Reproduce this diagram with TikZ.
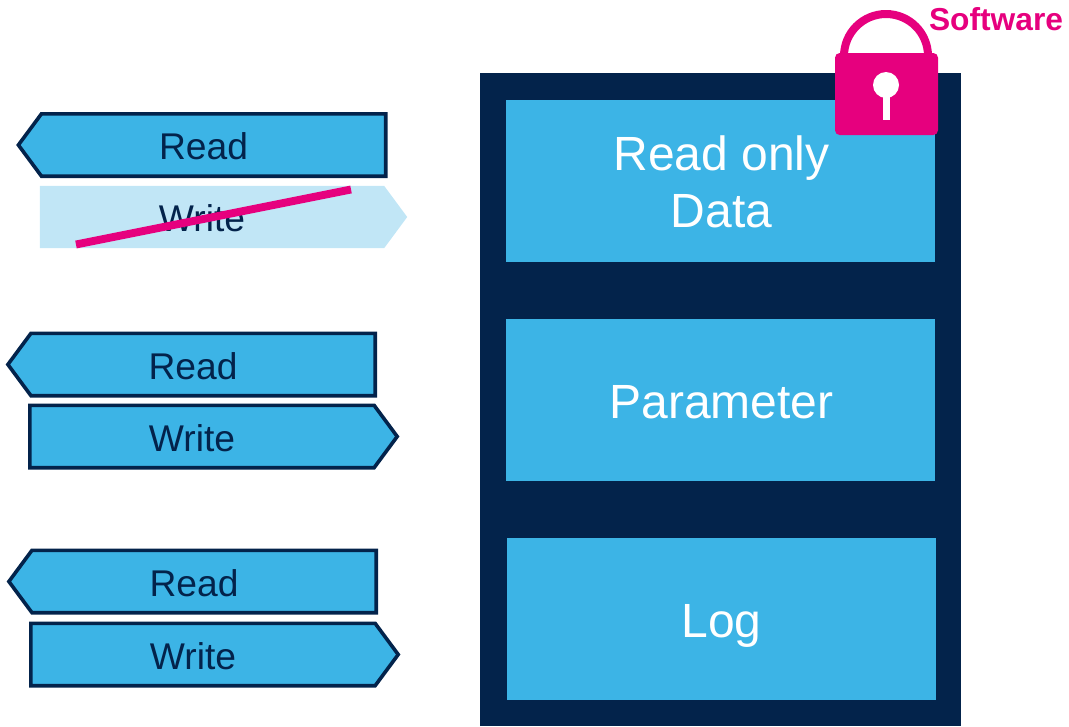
\documentclass[tikz,border=0pt]{standalone}
\usepackage{fontspec}
\setmainfont{Liberation Sans}
\usepackage{tikz}
\usetikzlibrary{positioning, shapes.symbols}
\definecolor{stdark}{HTML}{03234B}
\definecolor{stblue}{HTML}{3CB4E6}
\definecolor{stpale}{HTML}{C1E6F6}
\definecolor{stpink}{HTML}{E6007E}
\newcommand{\portname}[1]{\makebox[0pt]{\hspace{-15pt}#1}}
\tikzset{
	every node/.append style={
		outer sep=0pt,
	},
	memory/.append style={
		fill=stblue,
		text=white,
		align = center,
		minimum width=321.75pt,
		minimum height=121.5pt,
		inner sep=0pt,
		font={\fontsize{36pt}{43pt}\selectfont},
	},
	oneline/.append style={
		text height=27pt,
		text depth=0pt,
	},
	port/.append style={
		shape=signal,
		signal from=nowhere,
		signal pointer angle=107,
		fill=stblue,
		draw=stdark,
		line width=2.7pt,
		text=stdark,
		text height=22pt,
		text depth=0pt,
		minimum width=275.5pt,
		minimum height=46.8pt,
		inner sep=0pt,
		font={\fontsize{27.9pt}{33pt}\selectfont},
	},
	readport/.append style={
		port,
		signal to=west,
	},
	writeport/.append style={
		port,
		signal to=east,
	},
	strike/.append style={
		draw=stpink,
		line width=5.9pt,
	},
}

\begin{document}
\begin{tikzpicture}[x=0.75pt,y=-0.75pt]
\useasboundingbox (0,0) rectangle (1069,726);
\fill[stdark] (480,73) rectangle (961,726);

\node(data)[memory,anchor=north west] at (506,100) {\hspace*{1.5pt}\rule{0pt}{27.8pt}Read only\\\hspace*{1.5pt}Data};
\node(param)[memory,oneline,below = 42.75pt of data] {\hspace*{1.5pt}Parameter};
\node(log)[memory,oneline,anchor=north west] at (507,538) {Log};

\node(reada)[readport] at (213.6,145) {\portname{Read}};
\node(writea)[writeport,fill=stpale,draw=none] at (212,217) {\portname{Write}};
\node(readb)[readport] at (203.1,364.5) {\portname{Read}};
\node(writeb)[writeport] at (202,436.5) {\portname{Write}};
\node(readc)[readport] at (204.1,581.5) {\portname{Read}};
\node(writec)[writeport] at (203,654.5) {\portname{Write}};

\coordinate(strikea) at (76,244.5);
\coordinate(strikeb) at (351,189.5);
\draw[strike] (strikea) -- (strikeb);

% lock
\draw[stpink,line width=6pt] (844,56) arc[start angle=180,end angle=360,radius=42];
\fill[stpink,rounded corners=3.5pt] (835,53) rectangle (938,135);
\fill[white] (886,85) circle[radius=13];
\fill[white] (883,90) rectangle (890,120);
\node(soft)[text=stpink,font={\fontsize{23.8pt}{28pt}\selectfont\bfseries},anchor=base west,inner sep=0pt] at (929,30) {Software};
\end{tikzpicture}
\end{document}
